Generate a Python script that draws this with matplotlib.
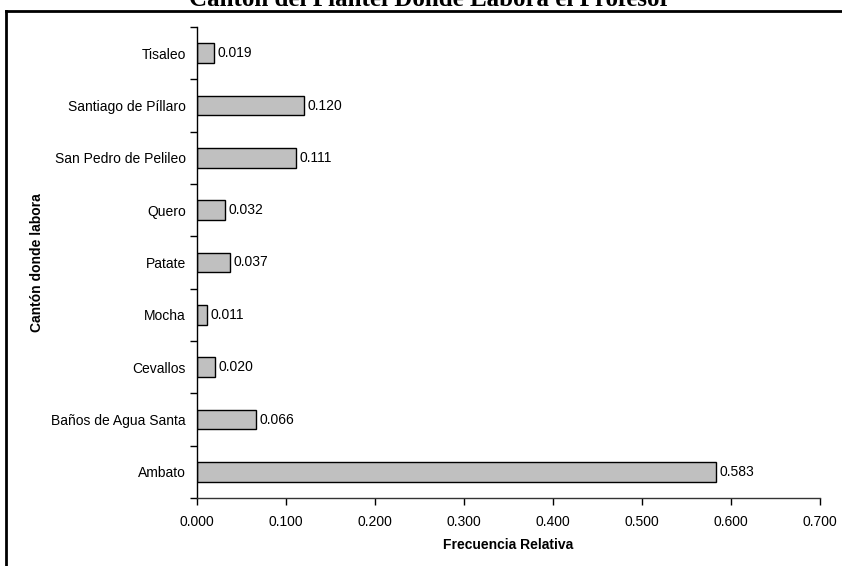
import matplotlib
matplotlib.use("Agg")
import matplotlib.pyplot as plt
from matplotlib.lines import Line2D

categories = ["Ambato", "Baños de Agua Santa", "Cevallos", "Mocha", "Patate",
              "Quero", "San Pedro de Pelileo", "Santiago de Píllaro", "Tisaleo"]
values = [0.583, 0.066, 0.020, 0.011, 0.037, 0.032, 0.111, 0.120, 0.019]
xticks = [0.0, 0.1, 0.2, 0.3, 0.4, 0.5, 0.6, 0.7]

plt.rcParams['font.family'] = ['Liberation Sans', 'DejaVu Sans']
fig = plt.figure(figsize=(8.42, 5.66), dpi=100)
ax = fig.add_axes([197/842, 1-498/566, (820-197)/842, (498-27)/566])

pos = list(range(len(categories)))
ax.barh(pos, values, height=0.38, color='#c0c0c0', edgecolor='black', linewidth=1.0)
for p, v in zip(pos, values):
    ax.annotate(f"{v:.3f}", (v, p), xytext=(2.5, 0), textcoords='offset points',
                va='center', ha='left', fontsize=10)

ax.set_xlim(0, 0.7)
ax.set_ylim(-0.5, len(categories)-0.5)
ax.set_xticks(xticks)
ax.set_xticklabels([f"{t:.3f}" for t in xticks], fontsize=10)
ax.set_yticks(pos)
ax.set_yticklabels(categories, fontsize=10)
ax.tick_params(axis='y', length=0, pad=8)
ax.set_yticks([p - 0.5 for p in pos] + [len(categories)-0.5], minor=True)
ax.tick_params(axis='y', which='minor', length=5, width=1, direction='out')
ax.tick_params(axis='x', length=5, width=1, direction='out', pad=7)
for s in ['top', 'right']:
    ax.spines[s].set_visible(False)
ax.spines['left'].set_linewidth(1)
ax.spines['bottom'].set_linewidth(1)
ax.spines['bottom'].set_color('#333333')

ax.set_xlabel("Frecuencia Relativa", fontsize=10, fontweight='bold', labelpad=7)
ax.set_ylabel("Cantón donde labora", fontsize=10, fontweight='bold')
ax.yaxis.set_label_coords(-(197-44)/623, 0.5)

fig.text(430/842, 1-6/566, "Cantón del Plantel Donde Labora el Profesor",
         ha='center', va='baseline', fontsize=18, fontweight='bold',
         family=['Liberation Serif', 'DejaVu Serif'])

# outer frame
fig.add_artist(Line2D([6/842, 6/842], [0, 1-11/566], transform=fig.transFigure,
                      color='black', linewidth=2))
fig.add_artist(Line2D([6/842, 1], [1-11/566, 1-11/566], transform=fig.transFigure,
                      color='black', linewidth=2))

fig.savefig("out.png", dpi=100)
